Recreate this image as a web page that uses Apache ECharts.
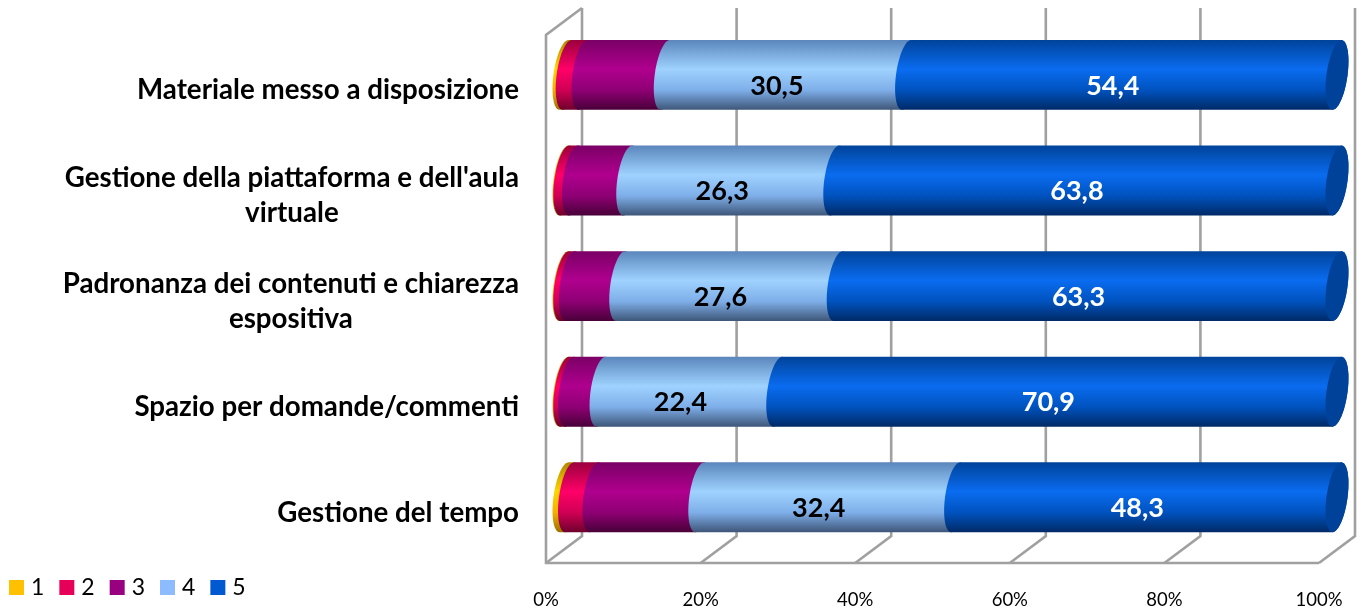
<!DOCTYPE html>
<html><head><meta charset="utf-8">
<style>html,body{margin:0;padding:0;background:#fff}#c{width:1362px;height:612px}</style>
<script src="https://cdn.jsdelivr.net/npm/echarts@6/dist/echarts.min.js"></script>
</head><body><div id="c"></div>
<script>
const categories = ["Materiale messo a disposizione","Gestione della piattaforma e dell'aula virtuale","Padronanza dei contenuti e chiarezza espositiva","Spazio per domande/commenti","Gestione del tempo"];
const s1 = [0.4,0.1,0.1,0.1,0.7];
const s2 = [2.0,1.1,0.7,0.6,3.1];
const s3 = [10.4,6.9,6.4,4.0,13.4];
const s4 = [30.5,26.3,27.6,22.4,32.4];
const s5 = [54.4,63.8,63.3,70.9,48.3];
const ticks = [0,20,40,60,80,100];
const names = ['1','2','3','4','5'];
const FONT = 'Lato';
const DX = 36, DY = -27;
const palette = [
 {c:'#FFC000',g:['#B08800','#FFD500','#F0B000','#A06F00']},
 {c:'#E6005A',g:['#9A003E','#FF0068','#D00054','#6E002C']},
 {c:'#990080',g:['#7A0066','#B0008E','#8E0074','#480038']},
 {c:'#8CBBFF',g:['#5A86BC','#9FD2FF','#7EAEE8','#3E5678']},
 {c:'#0059D1',g:['#00439A','#0A6CF0','#0052BE','#002A66']}
];
const all = [s1,s2,s3,s4,s5];
const totals = categories.map((_,i)=>all.reduce((a,s)=>a+s[i],0));
function grad(g){return {type:'linear',x:0,y:0,x2:0,y2:1,colorStops:[{offset:0,color:g[0]},{offset:.42,color:g[1]},{offset:.72,color:g[2]},{offset:1,color:g[3]}]};}
function ell(cx,cy,a,s,r,t0,t1){const p=[];for(let i=0;i<=24;i++){const t=(t0+(t1-t0)*i/24)*Math.PI/180;p.push([cx+a*Math.cos(t)-s*Math.sin(t),cy+r*Math.sin(t)]);}return p;}
const fmt = v=>v.toFixed(1).replace('.',',');
const seriesList = [{
  type:'custom',name:'frame',silent:true,z:1,
  data:ticks.map(t=>[t]),encode:{x:0},
  renderItem(p,api){
    const cs=p.coordSys,x=api.coord([api.value(0),0])[0],top=cs.y,bot=cs.y+cs.height;
    const st={stroke:'#A0A0A0',lineWidth:2.6,fill:null};
    const ch=[{type:'polyline',shape:{points:[[x,bot],[x+DX,bot+DY],[x+DX,top+DY]]},style:st}];
    if(api.value(0)===0) ch.push({type:'polyline',shape:{points:[[x+DX,top+DY],[x,top],[x,bot],[cs.x+cs.width,bot]]},style:st});
    return {type:'group',children:ch};
  }
}];
all.forEach((arr,si)=>{
  const data=categories.map((_,i)=>{
    let st=0;for(let k=0;k<si;k++)st+=all[k][i];
    return [st/totals[i]*100,(st+arr[i])/totals[i]*100,i,arr[i]];
  });
  seriesList.push({
    type:'custom',name:names[si],z:2+si,itemStyle:{color:palette[si].c},
    data,encode:{x:[0,1],y:2},
    renderItem(p,api){
      const a0=api.coord([api.value(0),api.value(2)]),a1=api.coord([api.value(1),api.value(2)]);
      const h=api.size([0,1])[1],R=h*0.331,cy=a0[1]+DY/2+0.6,x0=a0[0]+DX/2,x1=a1[0]+DX/2;
      const A=10.6,S=4.5;
      const pts=ell(x1,cy,A,S,R,-90,90).concat(ell(x0,cy,A,S,R,90,270));
      const ch=[{type:'polygon',shape:{points:pts},style:{fill:grad(palette[si].g)}}];
      if(si===4) ch.push({type:'polygon',shape:{points:ell(x1,cy,A,S,R,0,360)},style:{fill:'#00429A'}});
      if(si>=3) ch.push({type:'text',z2:10,style:{text:fmt(api.value(3)),x:(x0+x1)/2-9,y:cy+11,align:'center',verticalAlign:'middle',fill:si===3?'#000':'#fff',font:'bold 27px '+FONT}});
      return {type:'group',children:ch};
    }
  });
});
const chart=echarts.init(document.getElementById('c'),null,{renderer:'canvas'});
chart.setOption({
  animation:false,backgroundColor:'#fff',
  grid:{left:546,right:43,top:35,bottom:49,containLabel:false},
  legend:{data:names,left:4,top:571,icon:'rect',itemWidth:15,itemHeight:15,itemGap:15,selectedMode:false,
    textStyle:{fontFamily:FONT,fontSize:23,color:'#000',padding:[0,0,0,2]}},
  xAxis:{type:'value',min:0,max:100,interval:20,splitLine:{show:false},axisLine:{show:false},axisTick:{show:false},
    axisLabel:{margin:28,formatter:'{value}%',fontFamily:FONT,fontSize:18.5,color:'#000',hideOverlap:false,showMinLabel:true,showMaxLabel:true}},
  yAxis:{type:'category',inverse:true,data:categories,splitLine:{show:false},axisLine:{show:false},axisTick:{show:false},
    axisLabel:{margin:27,align:'right',interval:0,
      formatter(v){
        const splits={"Gestione della piattaforma e dell'aula virtuale":["Gestione della piattaforma e dell'aula","virtuale"],"Padronanza dei contenuti e chiarezza espositiva":["Padronanza dei contenuti e chiarezza","espositiva"]};
        const l=splits[v]||[v];
        return l.map(t=>'{a|'+t+'}').join('\n');
      },
      padding:[5,0,0,0],
      rich:{a:{fontFamily:FONT,fontWeight:'bold',fontSize:27.7,color:'#000',lineHeight:35,align:'center'}}
    }},
  series:seriesList
});
</script></body></html>
